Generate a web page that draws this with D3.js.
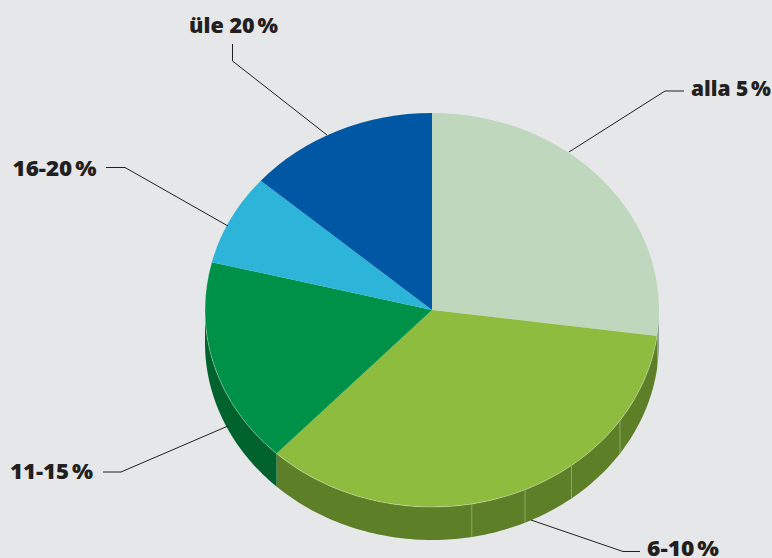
<!DOCTYPE html>
<html><head><meta charset="utf-8">
<script src="https://cdn.jsdelivr.net/npm/d3@7"></script>
<style>html,body{margin:0;padding:0;background:#e6e7e9}svg{display:block}</style></head>
<body><script>
const categories = ["alla 5\u202f%", "6-10\u202f%", "11-15\u202f%", "16-20\u202f%", "üle 20\u202f%"];
const values = [27.1, 34.9, 16.9, 7.5, 13.6];
const topColors = ["#bfd7bd", "#8ebc3f", "#009149", "#2cb5d9", "#0058a4"];
const wallColors = ["#8f9f94", "#5c7f28", "#00632e", "#1b7f9c", "#003d75"];
const seamAngles = [124.1, 142.1, 155.8, 169.9];
const labelAnchors = [[691,96],[647,555.5],[10,479],[12.5,176],[189,33]];
const labelWidths = [80,72,83,84,89];
const leaders = [
  [[569,152],[665,91],[684,91]],
  [[531,520],[623,551.5],[640,551.5]],
  [[228,426],[121,472],[103,472]],
  [[228,226],[125,167.5],[106,167.5]],
  [[327,135],[232.5,61],[232.5,44]]
];
const W=772,H=558,cx=432,cy=310,rx=227,ry=197,depth=33;
const svg=d3.select("body").append("svg").attr("width",W).attr("height",H);
svg.append("rect").attr("width",W).attr("height",H).attr("fill","#e6e7e9");
const pie=d3.pie().sort(null).value(d=>d);
const arcs=pie(values);
const px=t=>cx+rx*Math.sin(t), py=t=>cy-ry*Math.cos(t);
const rimLine=d3.line().x(t=>px(t)).y(t=>py(t));
const gWall=svg.append("g");
arcs.forEach((a,i)=>{
  const s=Math.max(a.startAngle,Math.PI/2), e=Math.min(a.endAngle,Math.PI*1.5);
  if(e<=s) return;
  const ts=d3.range(0,121).map(k=>s+(e-s)*k/120);
  const poly=d3.line()([
    ...ts.map(t=>[px(t),py(t)]),
    ...ts.slice().reverse().map(t=>[px(t),py(t)+depth])
  ])+"Z";
  gWall.append("path").attr("d",poly).attr("fill",wallColors[i]);
});
seamAngles.forEach(d=>{
  const t=d*Math.PI/180;
  gWall.append("line").attr("x1",px(t)).attr("x2",px(t)).attr("y1",py(t)).attr("y2",py(t)+depth)
    .attr("stroke","#8fa96a").attr("stroke-width",1);
});
const arc=d3.arc().innerRadius(0).outerRadius(rx);
const gTop=svg.append("g").attr("transform",`translate(${cx},${cy}) scale(1,${ry/rx})`);
gTop.selectAll("path").data(arcs).join("path").attr("d",arc).attr("fill",(d,i)=>topColors[i]);
arcs.slice(1,3).forEach(a=>{
  const ts=d3.range(0,121).map(k=>a.startAngle+(a.endAngle-a.startAngle)*k/120);
  svg.append("path").attr("d",rimLine(ts)).attr("fill","none").attr("stroke","#fff").attr("stroke-opacity",.35).attr("stroke-width",.8);
});
const leaderLine=d3.line();
svg.append("g").selectAll("path").data(leaders).join("path").attr("d",d=>leaderLine(d))
  .attr("fill","none").attr("stroke","#231f20").attr("stroke-width",1);
svg.append("g").selectAll("text").data(categories).join("text")
  .attr("x",(d,i)=>labelAnchors[i][0]).attr("y",(d,i)=>labelAnchors[i][1])
  .attr("textLength",(d,i)=>labelWidths[i]).attr("lengthAdjust","spacingAndGlyphs")
  .attr("font-family","'Open Sans',sans-serif").attr("font-weight",800).attr("font-size",21.5)
  .attr("fill","#231f20").text(d=>d);
</script></body></html>
